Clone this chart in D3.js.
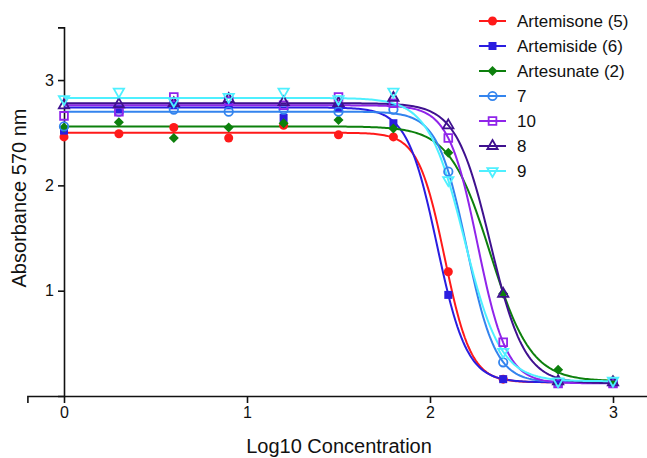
<!DOCTYPE html>
<html lang="en">
<head>
  <meta charset="UTF-8">
  <title>Absorbance curves</title>
  <script src="https://d3js.org/d3.v7.min.js"></script>
  <style>
    body { margin: 0; background: #fff; }
    text { font-family: "Liberation Sans", Arial, sans-serif; fill: #111; }
  </style>
</head>
<body>
<script>
  // log10 concentration (x) and absorbance readings for each compound
  var logConc = [0, 0.3, 0.6, 0.9, 1.2, 1.5, 1.8, 2.1, 2.4, 2.7, 3.0];
  var artemisone = [2.46, 2.49, 2.55, 2.45, 2.57, 2.48, 2.46, 1.18, 0.16, 0.13, 0.13];
  var artemiside = [2.52, 2.72, 2.76, 2.76, 2.64, 2.74, 2.59, 0.96, 0.16, 0.13, 0.13];
  var artesunate = [2.55, 2.60, 2.45, 2.55, 2.59, 2.62, 2.54, 2.31, 0.97, 0.25, 0.15];
  var cpd7 = [2.56, 2.70, 2.72, 2.70, 2.72, 2.70, 2.72, 2.13, 0.32, 0.13, 0.13];
  var cpd10 = [2.66, 2.70, 2.84, 2.80, 2.76, 2.84, 2.78, 2.45, 0.51, 0.12, 0.12];
  var cpd8 = [2.76, 2.77, 2.78, 2.82, 2.79, 2.78, 2.83, 2.57, 0.97, 0.14, 0.13];
  var cpd9 = [2.82, 2.89, 2.80, 2.84, 2.89, 2.82, 2.89, 2.05, 0.42, 0.14, 0.145];

  var names = ["Artemisone (5)", "Artemiside (6)", "Artesunate (2)", "7", "10", "8", "9"];
  // fitted sigmoid parameters (top, bottom, logEC50, hill slope), same order as names
  var fitTop = [2.50, 2.74, 2.56, 2.70, 2.76, 2.78, 2.83];
  var fitBottom = [0.13, 0.13, 0.14, 0.13, 0.12, 0.12, 0.14];
  var fitLogEC50 = [2.08, 2.038, 2.33, 2.20, 2.26, 2.33, 2.188];
  var fitHill = [6.0, 5.33, 3.9, 5.47, 5.46, 4.65, 4.41];

  var xTicks = [0, 1, 2, 3];
  var yTicks = [1, 2, 3];

  var allValues = [artemisone, artemiside, artesunate, cpd7, cpd10, cpd8, cpd9];
  var colors = ["#ff1a1a", "#2a1de0", "#0d800d", "#3384ee", "#9024ea", "#3f118f", "#4ef0ff"];
  var shapes = [d3.symbolCircle, d3.symbolSquare, d3.symbolSquare, d3.symbolCircle,
                d3.symbolSquare, d3.symbolTriangle, d3.symbolTriangle];
  var rotations = [0, 0, 45, 0, 0, 0, 180]; // diamond = turned square, 9 = upside-down triangle
  var filled = [true, true, true, false, false, false, false];
  var sizes = [64, 64, 50, 56, 60, 46, 46];

  var width = 647, height = 458;
  var svg = d3.select("body").append("svg").attr("width", width).attr("height", height);

  var x = d3.scaleLinear().domain([-0.2, 3.2]).range([27.4, 649.6]);
  var y = d3.scaleLinear().domain([0, 3.5]).range([396, 27.4]);

  // axes
  svg.append("g")
     .attr("transform", "translate(0," + y(0) + ")")
     .call(d3.axisBottom(x).tickValues(xTicks).tickFormat(d3.format("d")).tickSize(7).tickPadding(4))
     .call(function(g){ g.selectAll("text").attr("font-size", "16px"); });
  svg.append("g")
     .attr("transform", "translate(" + x(0) + ",0)")
     .call(d3.axisLeft(y).tickValues(yTicks).tickFormat(d3.format("d")).tickSize(6).tickPadding(4))
     .call(function(g){ g.selectAll("text").attr("font-size", "16px"); });
  svg.selectAll(".domain").attr("stroke", "#111").attr("stroke-width", 1.6);
  svg.selectAll(".tick line").attr("stroke", "#111").attr("stroke-width", 1.6);
  svg.selectAll(".tick text").style("fill", "#111");

  // axis titles
  svg.append("text")
     .attr("x", 339).attr("y", 453)
     .attr("text-anchor", "middle")
     .attr("font-size", "20px")
     .text("Log10 Concentration");
  svg.append("text")
     .attr("transform", "translate(26,198) rotate(-90)")
     .attr("text-anchor", "middle")
     .attr("font-size", "20px")
     .text("Absorbance 570 nm");

  function fitValue(i, v) {
    return fitBottom[i] + (fitTop[i] - fitBottom[i]) / (1 + Math.pow(10, (v - fitLogEC50[i]) * fitHill[i]));
  }
  var curveX = d3.range(0, 3.0001, 0.01);
  var line = d3.line().x(function(d){ return x(d[0]); }).y(function(d){ return y(d[1]); });

  // fitted curves
  names.forEach(function(n, i) {
    svg.append("path")
       .datum(curveX.map(function(v){ return [v, fitValue(i, v)]; }))
       .attr("fill", "none")
       .attr("stroke", colors[i])
       .attr("stroke-width", 2)
       .attr("d", line);
  });

  function symbolAttrs(sel, i) {
    sel.attr("d", d3.symbol().type(shapes[i]).size(sizes[i]))
       .attr("fill", filled[i] ? colors[i] : "none")
       .attr("stroke", colors[i])
       .attr("stroke-width", filled[i] ? 0 : 1.8);
  }

  // data points
  names.forEach(function(n, i) {
    svg.append("g").selectAll("path")
       .data(allValues[i])
       .enter()
       .append("path")
       .attr("transform", function(d, j){
         return "translate(" + x(logConc[j]) + "," + y(d) + ") rotate(" + rotations[i] + ")";
       })
       .call(symbolAttrs, i);
  });

  // legend
  var legend = svg.append("g").selectAll("g")
     .data(names)
     .enter()
     .append("g")
     .attr("transform", function(d, i){ return "translate(479," + (21 + i * 25) + ")"; });
  legend.append("line")
     .attr("x1", 0).attr("x2", 27)
     .attr("stroke", function(d, i){ return colors[i]; })
     .attr("stroke-width", 2);
  legend.each(function(d, i) {
    d3.select(this).append("path")
       .attr("transform", "translate(13.5,0) rotate(" + rotations[i] + ")")
       .call(symbolAttrs, i);
  });
  legend.append("text")
     .attr("x", 38).attr("dy", "0.35em")
     .attr("font-size", "17px")
     .text(function(d){ return d; });
</script>
</body>
</html>
